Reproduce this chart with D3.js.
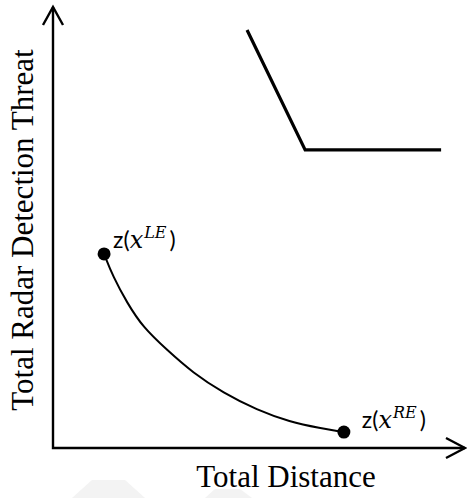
<!DOCTYPE html>
<html>
<head>
<meta charset="utf-8">
<script src="https://cdn.jsdelivr.net/npm/d3@7"></script>
<style>
  html, body { margin: 0; padding: 0; background: #fff; }
  svg { display: block; }
</style>
</head>
<body>
<svg id="chart" width="467" height="498"></svg>
<script>
// Pareto front between the two extreme solutions (distance, threat)
const frontDistance = [1.24, 1.46, 1.80, 2.18, 2.77, 3.40, 4.13, 4.95, 5.75, 6.48, 7.06];
const frontThreat   = [4.40, 3.88, 3.29, 2.74, 2.22, 1.70, 1.25, 0.86, 0.59, 0.45, 0.36];

// Piecewise boundary drawn in the upper right
const boundDistance = [4.71, 6.12, 9.42];
const boundThreat   = [9.48, 6.76, 6.76];

// Extreme points and their labels
const extremeNames    = ["LE", "RE"];
const extremeDistance = [1.24, 7.06];
const extremeThreat   = [4.40, 0.36];

const xTitle = "Total Distance";
const yTitle = "Total Radar Detection Threat";

const svg = d3.select("#chart");
const x = d3.scaleLinear().domain([0, 10]).range([53, 465]);
const y = d3.scaleLinear().domain([0, 10]).range([448, 7]);

// Axes with open arrowheads
const axes = svg.append("g")
  .attr("fill", "none").attr("stroke", "#000").attr("stroke-width", 2.4)
  .attr("stroke-linejoin", "miter");
axes.append("path")
  .attr("d", d3.line()([[x(0), y(10)], [x(0), y(0)], [x(10), y(0)]]));
axes.append("path")
  .attr("d", d3.line()([[x(0) - 10, y(10) + 18], [x(0), y(10)], [x(0) + 10, y(10) + 18]]));
axes.append("path")
  .attr("d", d3.line()([[x(10) - 19, y(0) - 10], [x(10), y(0)], [x(10) - 19, y(0) + 10]]));

// Pareto front curve
const front = frontDistance.map((d, i) => [d, frontThreat[i]]);
svg.append("path")
  .datum(front)
  .attr("fill", "none").attr("stroke", "#000").attr("stroke-width", 2)
  .attr("d", d3.line().x(d => x(d[0])).y(d => y(d[1])).curve(d3.curveBasis));

// Upper boundary polyline
const bound = boundDistance.map((d, i) => [d, boundThreat[i]]);
svg.append("path")
  .datum(bound)
  .attr("fill", "none").attr("stroke", "#000").attr("stroke-width", 3.2)
  .attr("d", d3.line().x(d => x(d[0])).y(d => y(d[1])));

// Extreme points
const extremes = extremeNames.map((n, i) => ({ name: n, dx: extremeDistance[i], ty: extremeThreat[i] }));
svg.selectAll("circle.ext").data(extremes).join("circle")
  .attr("class", "ext")
  .attr("cx", d => x(d.dx)).attr("cy", d => y(d.ty)).attr("r", 6.5)
  .attr("fill", "#000");

const labelOffset = { LE: [9, -6], RE: [18, -4] };
const labels = svg.selectAll("text.ext").data(extremes).join("text")
  .attr("class", "ext")
  .attr("x", d => x(d.dx) + labelOffset[d.name][0])
  .attr("y", d => y(d.ty) + labelOffset[d.name][1])
  .attr("font-family", "Lato, 'Open Sans', sans-serif")
  .attr("font-size", 23)
  .attr("fill", "#000");
labels.append("tspan").text("z(");
labels.append("tspan")
  .attr("font-family", "'DejaVu Serif', serif").attr("font-style", "italic")
  .attr("font-size", 24)
  .text("x");
labels.append("tspan")
  .attr("font-family", "'DejaVu Serif', serif").attr("font-style", "italic")
  .attr("font-size", 16).attr("dy", -10).attr("dx", 1)
  .text(d => d.name);
labels.append("tspan").attr("dy", 10).attr("dx", 3).text(")");

// Axis titles
svg.append("text")
  .attr("x", 286).attr("y", 487)
  .attr("text-anchor", "middle")
  .attr("font-family", "'Liberation Serif', 'Times New Roman', serif")
  .attr("font-size", 31)
  .text(xTitle);
svg.append("text")
  .attr("transform", "translate(33,230) rotate(-90)")
  .attr("text-anchor", "middle")
  .attr("font-family", "'Liberation Serif', 'Times New Roman', serif")
  .attr("font-size", 31)
  .text(yTitle);

// Faint background emblem at the bottom edge
const emblem = svg.insert("g", ":first-child").attr("fill", "#f3f3f3");
emblem.append("path").attr("d", "M72,498 L92,480 L125,480 L145,498 Z");
emblem.append("path").attr("d", "M205,498 L215,489 L240,489 L252,498 Z");
</script>
</body>
</html>
